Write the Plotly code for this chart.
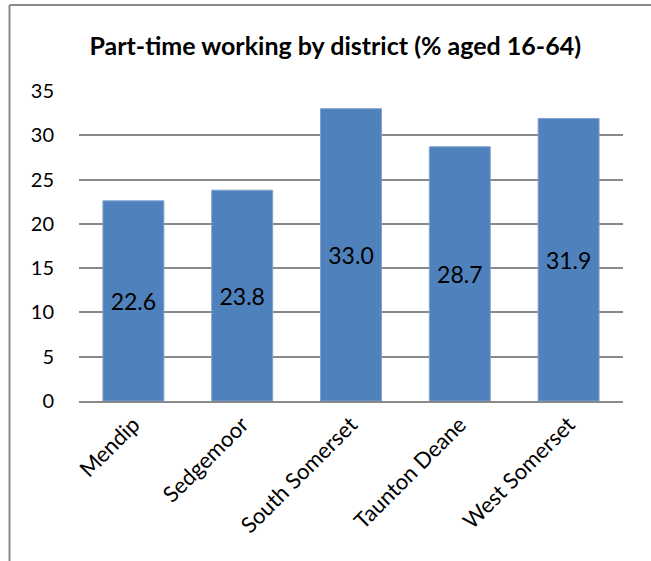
import plotly.graph_objects as go

# Part-time working by district (% aged 16-64)
districts = ["Mendip", "Sedgemoor", "South Somerset", "Taunton Deane", "West Somerset"]
part_time_pct = [22.6, 23.8, 33.0, 28.7, 31.9]

FONT = "Lato, Carlito, Calibri, sans-serif"
BAR = "#4F81BD"
GRID = "#898989"

W, H = 651, 561
L, R, T, B = 79, 28, 91, 160

fig = go.Figure(go.Bar(
    x=districts, y=part_time_pct,
    marker=dict(color=BAR, line=dict(color="#7DA1CE", width=1)),
    texttemplate="%{y:.1f}", textposition="inside",
    insidetextanchor="middle", textangle=0,
    textfont=dict(family=FONT, size=23, color="#000000"),
    hoverinfo="x+y",
))

# outer chart frame (only top and left edges fall inside the crop)
pw, ph = W - L - R, H - T - B
left_x = (9.5 - L) / pw
top_y = (H - B - 5) / ph
fig.add_shape(type="line", xref="paper", yref="paper",
              x0=left_x, x1=(W - L) / pw, y0=top_y, y1=top_y,
              line=dict(color=GRID, width=2))
fig.add_shape(type="line", xref="paper", yref="paper",
              x0=left_x, x1=left_x, y0=top_y, y1=-B / ph,
              line=dict(color=GRID, width=2))

fig.update_layout(
    width=W, height=H,
    margin=dict(l=L, r=R, t=T, b=B),
    paper_bgcolor="#ffffff", plot_bgcolor="#ffffff",
    font=dict(family=FONT, size=18, color="#000000"),
    title=dict(text="<b>Part-time working by district (% aged 16-64)</b>",
               x=0.515, xanchor="center", y=1 - 46 / H, yanchor="middle",
               font=dict(family=FONT, size=25, color="#000000")),
    bargap=0.44,
    showlegend=False,
)
fig.update_xaxes(
    tickangle=-45, showline=True, linecolor=GRID, linewidth=2,
    showgrid=False, ticks="", tickfont=dict(size=22),
)
fig.update_yaxes(
    range=[0, 35], dtick=5, showgrid=True, gridcolor=GRID, gridwidth=1.5,
    zeroline=False, showline=False, ticks="", ticklabelstandoff=24,
    tickfont=dict(size=20),
)

# the page's default body margin would push the figure 8px down/right
fig.write_html("out.html", config={"displayModeBar": False},
               post_script="document.body.style.margin = '0';")
